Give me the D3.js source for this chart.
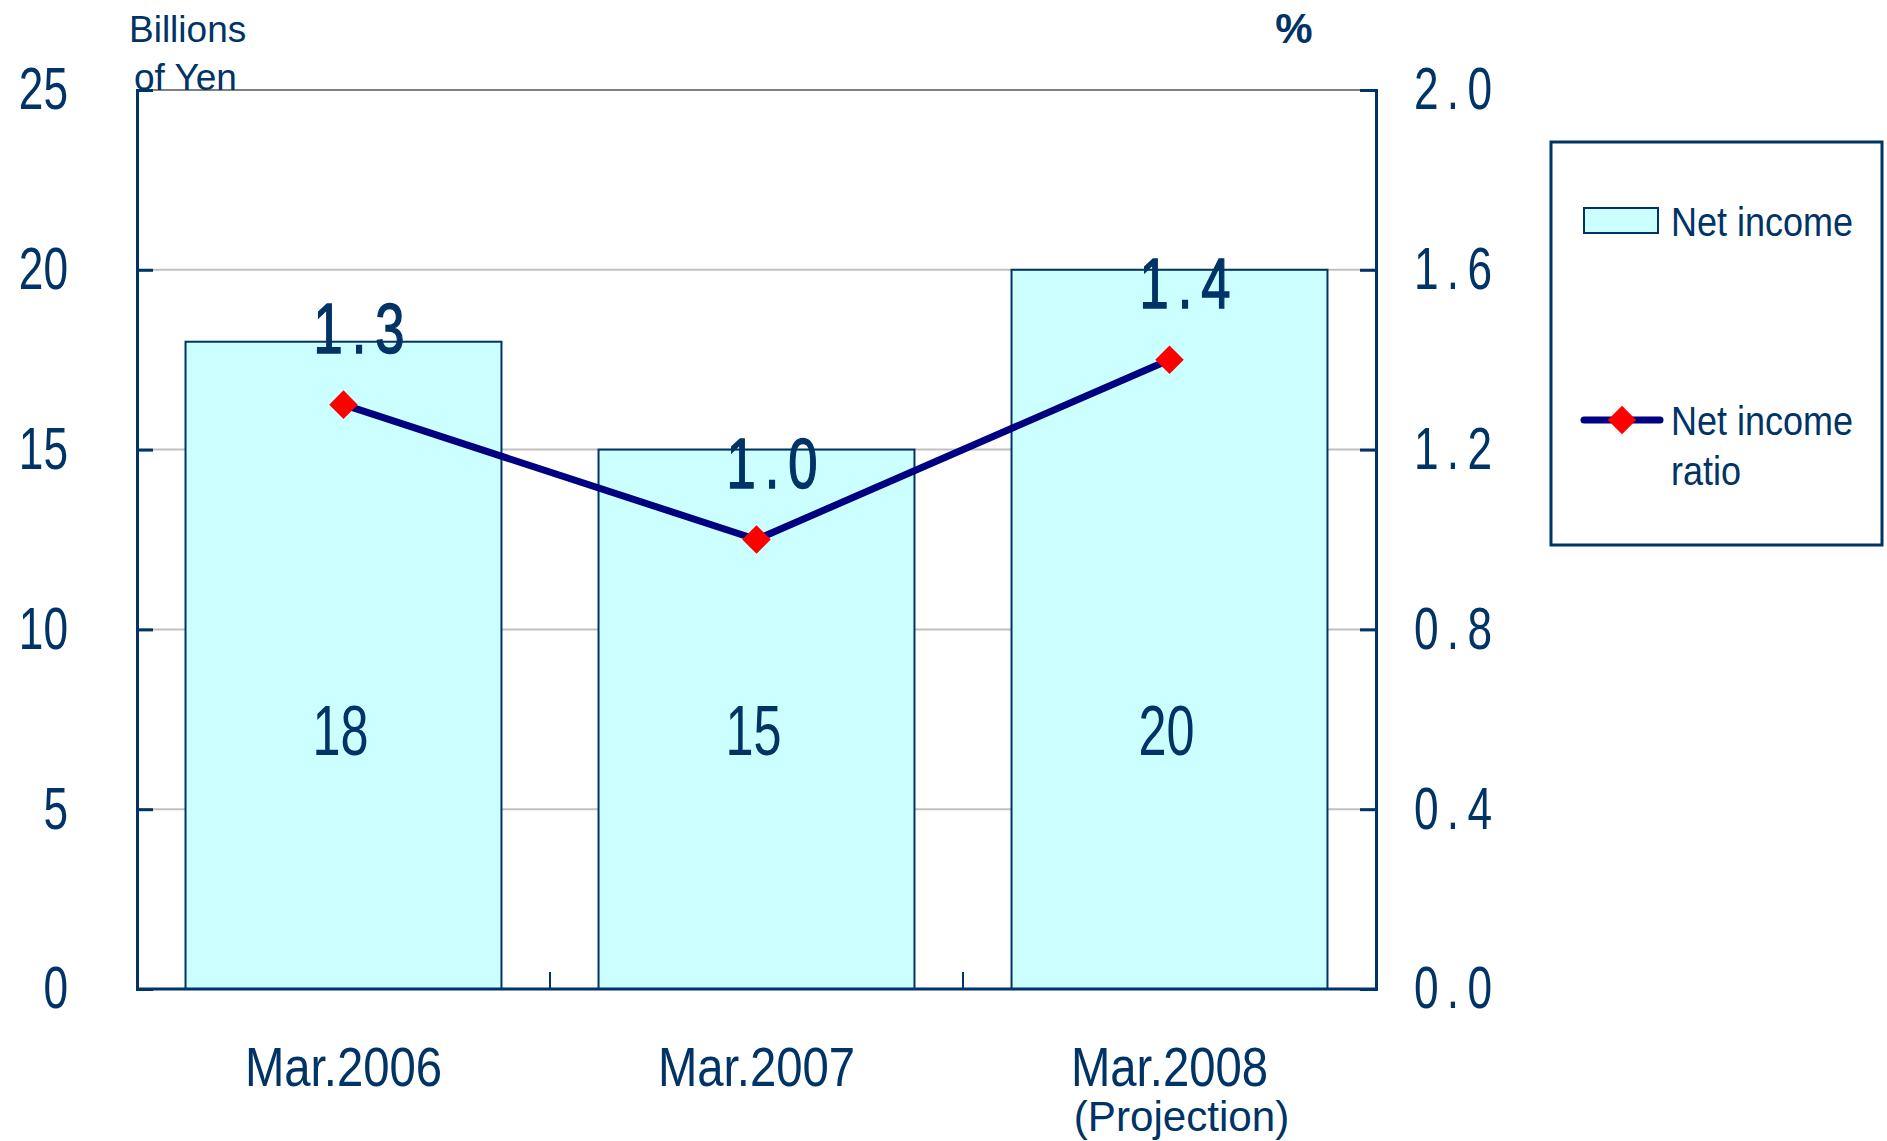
<!DOCTYPE html>
<html>
<head>
<meta charset="utf-8">
<script src="https://cdn.jsdelivr.net/npm/d3@7"></script>
<style>
  body { margin: 0; background: #fff; }
  text { fill: #003366; font-family: "Liberation Sans", Arial, sans-serif; }
</style>
</head>
<body>
<div id="chart"></div>
<script>
// Net income (billions of yen) with net income ratio (%) on a second axis
const categories = ['Mar.2006', 'Mar.2007', 'Mar.2008'];
const netIncome = [18, 15, 20];
const incomeRatio = [1.3, 1.0, 1.4];
const leftTicks = [0, 5, 10, 15, 20, 25];
const rightTicks = [0, 0.4, 0.8, 1.2, 1.6, 2.0];

const width = 1887;
const height = 1141;
const navy = '#003366';
// the original uses tall, narrow digits: squeeze Liberation Sans horizontally
const digitScale = 0.75;

const plot = { left: 137, right: 1376, top: 90, bottom: 989 };

const svg = d3.select('#chart').append('svg')
    .attr('width', width)
    .attr('height', height);

const x = d3.scaleBand()
    .domain(categories)
    .range([plot.left, plot.right])
    .paddingInner(0.235)
    .paddingOuter(0.1175);

const band = d3.scaleBand()
    .domain(categories)
    .range([plot.left, plot.right]);

const mid = name => band(name) + band.bandwidth() / 2;

const yLeft = d3.scaleLinear().domain([0, 25]).range([plot.bottom, plot.top]);
const yRight = d3.scaleLinear().domain([0, 2.0]).range([plot.bottom, plot.top]);

// gridlines
svg.append('g')
    .selectAll('line')
    .data(leftTicks.filter(d => d > 0 && d < 25))
    .enter().append('line')
    .attr('x1', plot.left)
    .attr('x2', plot.right)
    .attr('y1', d => yLeft(d))
    .attr('y2', d => yLeft(d))
    .style('stroke', '#c0c0c0')
    .style('stroke-width', 2);

// top border
svg.append('line')
    .attr('x1', plot.left).attr('x2', plot.right)
    .attr('y1', plot.top).attr('y2', plot.top)
    .style('stroke', '#808080')
    .style('stroke-width', 2);

// bars
svg.append('g')
    .selectAll('rect')
    .data(netIncome)
    .enter().append('rect')
    .attr('x', (d, i) => x(categories[i]))
    .attr('y', d => yLeft(d))
    .attr('width', x.bandwidth())
    .attr('height', d => yLeft(0) - yLeft(d))
    .style('fill', '#ccffff')
    .style('stroke', navy)
    .style('stroke-width', 2);

// bar values
svg.append('g')
    .selectAll('text')
    .data(netIncome)
    .enter().append('text')
    .attr('transform', (d, i) => `translate(${mid(categories[i]) - 3},${yLeft(7.2)}) scale(0.72,1)`)
    .attr('dy', '0.36em')
    .style('font-size', '70px')
    .style('text-anchor', 'middle')
    .text(d => d);

// left axis
const leftAxis = svg.append('g')
    .attr('transform', `translate(${plot.left},0)`)
    .call(d3.axisLeft(yLeft).tickValues(leftTicks).tickSize(-16).tickFormat(d3.format('d')));
leftAxis.select('.domain').style('stroke', navy).style('stroke-width', 3);
leftAxis.selectAll('.tick line').style('stroke', navy).style('stroke-width', 3);
leftAxis.selectAll('.tick text')
    .attr('x', 0)
    .attr('transform', `translate(-69,0) scale(${digitScale},1)`)
    .style('font-size', '59px')
    .style('fill', navy);

// right axis
const rightAxis = svg.append('g')
    .attr('transform', `translate(${plot.right},0)`)
    .call(d3.axisRight(yRight).tickValues(rightTicks).tickSize(-16).tickFormat(d3.format('.1f')));
rightAxis.select('.domain').style('stroke', navy).style('stroke-width', 3);
rightAxis.selectAll('.tick line').style('stroke', navy).style('stroke-width', 3);
rightAxis.selectAll('.tick text')
    .attr('x', 0)
    .attr('transform', `translate(38,0) scale(${digitScale},1)`)
    .style('font-size', '59px')
    .style('letter-spacing', '11px')
    .style('fill', navy);
svg.selectAll('.tick text').attr('font-family', null);

// bottom axis line + ticks at band boundaries
svg.append('line')
    .attr('x1', plot.left).attr('x2', plot.right)
    .attr('y1', plot.bottom).attr('y2', plot.bottom)
    .style('stroke', navy)
    .style('stroke-width', 3);
svg.append('g')
    .selectAll('line')
    .data(categories.slice(1))
    .enter().append('line')
    .attr('x1', d => band(d))
    .attr('x2', d => band(d))
    .attr('y1', plot.bottom)
    .attr('y2', plot.bottom - 17)
    .style('stroke', navy)
    .style('stroke-width', 2);

// category labels
svg.append('g')
    .selectAll('text')
    .data(categories)
    .enter().append('text')
    .attr('transform', d => `translate(${mid(d)},1086) scale(0.86,1)`)
    .style('font-size', '55px')
    .style('text-anchor', 'middle')
    .text(d => d);

svg.append('text')
    .attr('transform', `translate(${mid(categories[2]) + 12},1131) scale(0.98,1)`)
    .style('font-size', '43px')
    .style('text-anchor', 'middle')
    .text('(Projection)');

// ratio line
const line = d3.line()
    .x((d, i) => mid(categories[i]))
    .y(d => yRight(d));

svg.append('path')
    .datum(incomeRatio)
    .attr('d', line)
    .style('fill', 'none')
    .style('stroke', '#000080')
    .style('stroke-width', 7)
    .style('stroke-linejoin', 'round');

const diamond = d3.symbol().type(d3.symbolDiamond2).size(520);

svg.append('g')
    .selectAll('path')
    .data(incomeRatio)
    .enter().append('path')
    .attr('transform', (d, i) => `translate(${mid(categories[i])},${yRight(d)})`)
    .attr('d', diamond)
    .style('fill', '#ff0000');

svg.append('g')
    .selectAll('text')
    .data(incomeRatio)
    .enter().append('text')
    .attr('transform', (d, i) => `translate(${mid(categories[i]) + 20},${yRight(d) - 52}) scale(${digitScale},1)`)
    .style('font-size', '70px')
    .style('letter-spacing', '12px')
    .style('stroke', navy)
    .style('stroke-width', 1.5)
    .style('text-anchor', 'middle')
    .text(d => d3.format('.1f')(d));

// axis titles
svg.append('text')
    .attr('x', 129)
    .attr('y', 42)
    .style('font-size', '37px')
    .text('Billions');
svg.append('text')
    .attr('x', 134)
    .attr('y', 90)
    .style('font-size', '37px')
    .text('of Yen');
svg.append('text')
    .attr('x', 1294)
    .attr('y', 43)
    .style('font-size', '42px')
    .style('font-weight', 'bold')
    .style('text-anchor', 'middle')
    .text('%');

// legend
const legend = svg.append('g');
legend.append('rect')
    .attr('x', 1551).attr('y', 142)
    .attr('width', 331).attr('height', 403)
    .style('fill', '#fff')
    .style('stroke', navy)
    .style('stroke-width', 3);
legend.append('rect')
    .attr('x', 1584).attr('y', 208)
    .attr('width', 74).attr('height', 25)
    .style('fill', '#ccffff')
    .style('stroke', navy)
    .style('stroke-width', 2);
legend.append('line')
    .attr('x1', 1584).attr('x2', 1660)
    .attr('y1', 420).attr('y2', 420)
    .style('stroke', '#000080')
    .style('stroke-width', 7)
    .style('stroke-linecap', 'round');
legend.append('path')
    .attr('transform', 'translate(1622,420)')
    .attr('d', diamond)
    .style('fill', '#ff0000');
const legendText = [
    { label: 'Net income', y: 236 },
    { label: 'Net income', y: 435 },
    { label: 'ratio', y: 485 }
];
legend.selectAll('.legend-text')
    .data(legendText)
    .enter().append('text')
    .attr('class', 'legend-text')
    .attr('transform', d => `translate(1671,${d.y}) scale(0.9,1)`)
    .style('font-size', '40px')
    .text(d => d.label);
</script>
</body>
</html>
